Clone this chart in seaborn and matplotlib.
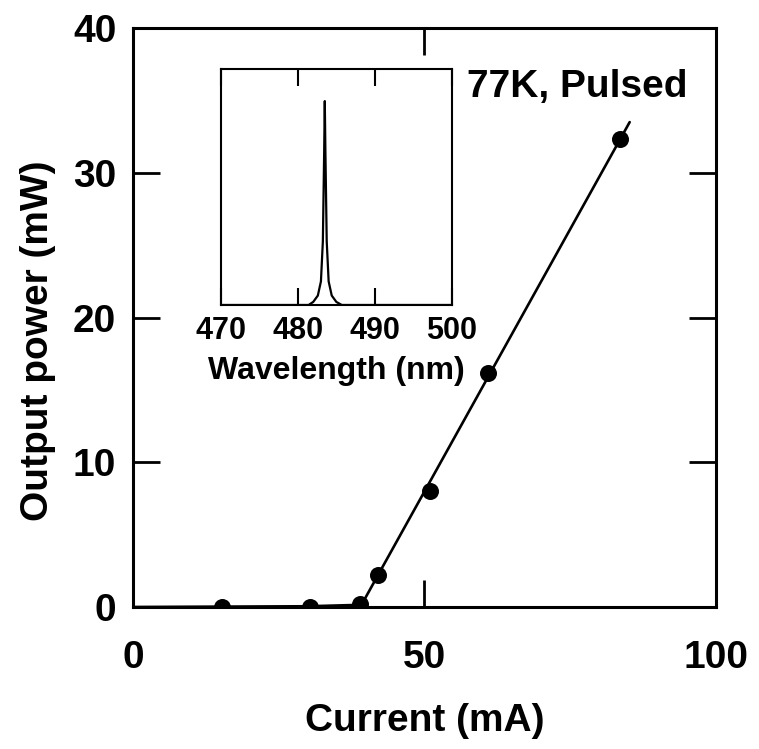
import matplotlib
matplotlib.use("Agg")
import matplotlib.pyplot as plt
import seaborn as sns
import pandas as pd

# L-I measurement of the laser diode (77 K, pulsed)
current_ma = [15.3, 30.4, 38.9, 42.0, 50.9, 60.9, 83.5]
power_mw = [0.0, 0.0, 0.2, 2.2, 8.0, 16.2, 32.3]

# hand-drawn fit: flat below threshold, linear above
fit_current = [0.0, 30.0, 39.2, 85.2]
fit_power = [0.0, 0.05, 0.15, 33.5]

# emission spectrum above threshold (normalised intensity)
wavelength_nm = [470.0, 481.4, 482.0, 482.6, 483.0, 483.25, 483.42, 483.5,
                 483.58, 483.75, 484.0, 484.4, 485.0, 485.7, 500.0]
intensity = [0.0, 0.0, 0.013, 0.04, 0.10, 0.27, 0.65, 0.864,
             0.65, 0.27, 0.10, 0.04, 0.013, 0.0, 0.0]

x_ticks = [0, 50, 100]
y_ticks = [0, 10, 20, 30, 40]
inset_ticks = [470, 480, 490, 500]

sns.set_style("ticks")
plt.rcParams["font.family"] = ["Liberation Sans", "DejaVu Sans"]
plt.rcParams["font.weight"] = "bold"
for key in ("text.color", "axes.labelcolor", "xtick.color", "ytick.color",
            "axes.edgecolor"):
    plt.rcParams[key] = "black"

fig = plt.figure(figsize=(7.59, 7.49), dpi=100)
ax = fig.add_axes([0.1752, 0.1896, 0.9433 - 0.1752, 0.9626 - 0.1896])

li = pd.DataFrame({"current": current_ma, "power": power_mw})
fit = pd.DataFrame({"current": fit_current, "power": fit_power})

sns.lineplot(data=fit, x="current", y="power", ax=ax, color="black",
             linewidth=1.9, estimator=None, sort=False)
sns.scatterplot(data=li, x="current", y="power", ax=ax, color="black",
                s=150, edgecolor="black", linewidth=0, zorder=3)

ax.set_xlim(0, 100)
ax.set_ylim(0, 40)
ax.set_xticks(x_ticks)
ax.set_yticks(y_ticks)
ax.tick_params(axis="both", direction="in", length=19.5, width=2.0,
               top=True, right=True, labelsize=28, colors="black")
ax.tick_params(axis="x", pad=24)
ax.tick_params(axis="y", pad=12)
for lab in ax.get_xticklabels() + ax.get_yticklabels():
    lab.set_fontweight("bold")
for sp in ax.spines.values():
    sp.set_linewidth(2.2)
    sp.set_color("black")
    sp.set_visible(True)

ax.set_xlabel("Current (mA)", fontsize=28, fontweight="bold")
ax.set_ylabel("Output power (mW)", fontsize=28, fontweight="bold")
ax.xaxis.set_label_coords(0.5, -0.166)
ax.yaxis.set_label_coords(-0.132, 0.46)

ax.text(0.573, 0.93, "77K, Pulsed", transform=ax.transAxes, ha="left",
        va="top", fontsize=28, fontweight="bold")

# inset: emission spectrum
ins = fig.add_axes([0.2908, 0.5928, 0.5955 - 0.2908, 0.9079 - 0.5928])
spec = pd.DataFrame({"wavelength": wavelength_nm, "intensity": intensity})
sns.lineplot(data=spec, x="wavelength", y="intensity", ax=ins, color="black",
             linewidth=1.6, estimator=None, sort=False)
ins.set_xlim(470, 500)
ins.set_ylim(0, 1)
ins.set_xticks(inset_ticks)
ins.set_yticks([])
ins.tick_params(axis="x", direction="in", length=12, width=1.5, top=True,
                labelsize=22, pad=8, colors="black")
for lab in ins.get_xticklabels():
    lab.set_fontweight("bold")
for sp in ins.spines.values():
    sp.set_linewidth(1.5)
    sp.set_color("black")
    sp.set_visible(True)
ins.set_xlabel("Wavelength (nm)", fontsize=23, fontweight="bold", labelpad=7)
ins.set_ylabel("")

fig.savefig("out.png", dpi=100)
